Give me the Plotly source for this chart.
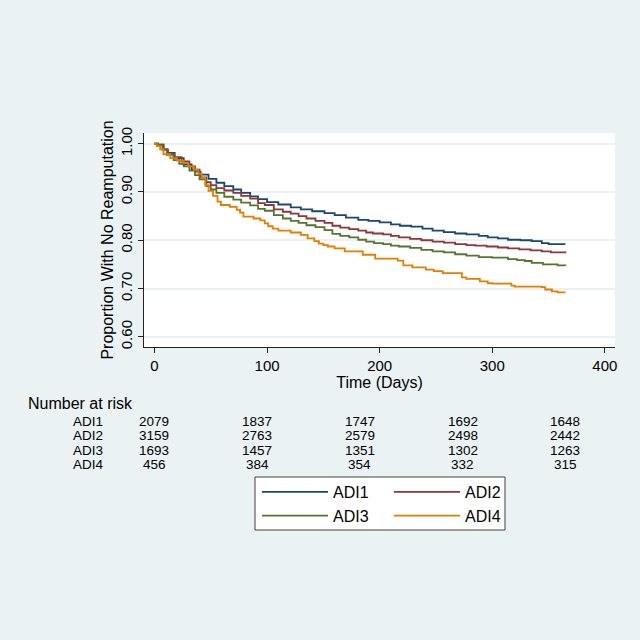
import plotly.graph_objects as go

# ---------------- data ----------------
groups = ["ADI1", "ADI2", "ADI3", "ADI4"]
colors = ["#1a476f", "#90353b", "#55752f", "#e37e00"]

adi1_days = [0, 3, 8, 11, 18, 26, 33, 40, 48, 55, 62, 70, 77, 85, 92, 100, 110, 121, 130, 140,
             151, 160, 170, 181, 190, 200, 210, 218, 228, 238, 247, 257, 267, 277, 288, 296,
             305, 314, 325, 335, 344, 350, 365]
adi1_surv = [1.000, 0.998, 0.988, 0.981, 0.970, 0.957, 0.946, 0.936, 0.927, 0.919, 0.912, 0.905,
             0.898, 0.891, 0.885, 0.879, 0.874, 0.868, 0.864, 0.860, 0.856, 0.852, 0.847, 0.842,
             0.840, 0.837, 0.833, 0.830, 0.828, 0.824, 0.820, 0.817, 0.814, 0.812, 0.809, 0.806,
             0.804, 0.801, 0.800, 0.798, 0.794, 0.792, 0.792]

adi2_days = [0, 3, 8, 12, 17, 24, 31, 36, 41, 46, 50, 55, 62, 70, 77, 85, 92, 98, 106, 114, 121,
             128, 135, 143, 151, 158, 165, 173, 181, 188, 194, 203, 210, 217, 227, 237, 247, 257,
             267, 277, 285, 295, 305, 314, 324, 334, 344, 352, 365]
adi2_surv = [1.000, 0.998, 0.988, 0.980, 0.972, 0.963, 0.953, 0.942, 0.930, 0.920, 0.914, 0.908,
             0.903, 0.898, 0.892, 0.886, 0.877, 0.873, 0.864, 0.859, 0.855, 0.850, 0.845, 0.840,
             0.836, 0.830, 0.826, 0.823, 0.820, 0.816, 0.814, 0.812, 0.809, 0.806, 0.803, 0.800,
             0.797, 0.795, 0.792, 0.790, 0.789, 0.787, 0.785, 0.783, 0.781, 0.779, 0.777, 0.775,
             0.773]

adi3_days = [0, 3, 7, 11, 17, 22, 26, 31, 36, 40, 46, 50, 55, 62, 70, 77, 85, 92, 98, 106, 114,
             121, 128, 135, 143, 151, 158, 165, 173, 181, 188, 195, 203, 210, 217, 227, 237, 247,
             257, 267, 277, 288, 300, 314, 322, 329, 335, 345, 358, 365]
adi3_surv = [1.000, 0.997, 0.987, 0.977, 0.966, 0.958, 0.953, 0.944, 0.935, 0.926, 0.912, 0.905,
             0.898, 0.890, 0.884, 0.878, 0.872, 0.865, 0.861, 0.852, 0.845, 0.840, 0.836, 0.831,
             0.827, 0.821, 0.813, 0.809, 0.806, 0.801, 0.797, 0.794, 0.792, 0.789, 0.787, 0.784,
             0.780, 0.777, 0.775, 0.771, 0.768, 0.765, 0.764, 0.761, 0.759, 0.757, 0.753, 0.750,
             0.748, 0.747]

adi4_days = [0, 2, 5, 8, 14, 20, 26, 30, 35, 39, 42, 45, 48, 52, 56, 59, 67, 73, 76, 79, 88, 94,
             98, 101, 105, 110, 121, 130, 136, 142, 146, 150, 154, 160, 169, 185, 196, 216, 221,
             229, 241, 248, 256, 273, 277, 289, 296, 300, 317, 320, 344, 347, 353, 358, 365]
adi4_surv = [1.000, 0.995, 0.988, 0.978, 0.970, 0.965, 0.960, 0.953, 0.946, 0.938, 0.929, 0.914,
             0.902, 0.892, 0.880, 0.873, 0.869, 0.863, 0.857, 0.849, 0.845, 0.841, 0.835, 0.829,
             0.824, 0.820, 0.816, 0.811, 0.804, 0.798, 0.793, 0.790, 0.787, 0.783, 0.777, 0.770,
             0.762, 0.758, 0.748, 0.744, 0.739, 0.736, 0.732, 0.723, 0.720, 0.715, 0.711, 0.710,
             0.706, 0.704, 0.703, 0.698, 0.694, 0.692, 0.692]

risk_times = [0, 91.25, 182.5, 273.75, 365]
risk_counts = {
    "ADI1": [2079, 1837, 1747, 1692, 1648],
    "ADI2": [3159, 2763, 2579, 2498, 2442],
    "ADI3": [1693, 1457, 1351, 1302, 1263],
    "ADI4": [456, 384, 354, 332, 315],
}

x_ticks = [0, 100, 200, 300, 400]
y_ticks = [0.6, 0.7, 0.8, 0.9, 1.0]

# ---------------- figure ----------------
FONT = "Liberation Sans, Arial, sans-serif"
BG = "#EAF2F3"

series = [(adi1_days, adi1_surv), (adi2_days, adi2_surv), (adi3_days, adi3_surv), (adi4_days, adi4_surv)]
legend_of = ["legend", "legend2", "legend", "legend2"]

fig = go.Figure()
for name, col, (d, s), lg in zip(groups, colors, series, legend_of):
    fig.add_trace(go.Scatter(x=d, y=s, mode="lines", name=name, line_shape="hv",
                             line=dict(color=col, width=1.8), legend=lg))

L, R, T, B = 144, 25, 133, 293
W, H = 640 - L - R, 640 - T - B


def py(pix):
    return (640 - B - pix) / H


def px(pix):
    return (pix - L) / W


# number-at-risk table
fig.add_annotation(text="Number at risk", xref="paper", yref="paper", x=px(26), y=py(403),
                   xanchor="left", yanchor="middle", showarrow=False,
                   font=dict(family=FONT, size=16, color="black"))
row_y = [421, 435.5, 450, 464.5]
for g, yy in zip(groups, row_y):
    fig.add_annotation(text=g, xref="paper", yref="paper", x=px(88), y=py(yy),
                       xanchor="center", yanchor="middle", showarrow=False,
                       font=dict(family=FONT, size=13.5, color="black"))
    for t, n in zip(risk_times, risk_counts[g]):
        fig.add_annotation(text=str(n), xref="x", yref="paper", x=t, y=py(yy),
                           xanchor="center", yanchor="middle", showarrow=False,
                           font=dict(family=FONT, size=13.5, color="black"))

# legend box
fig.add_shape(type="rect", xref="paper", yref="paper", x0=px(255), x1=px(505), y0=py(477), y1=py(530),
              fillcolor="white", line=dict(color="#404040", width=1), layer="below")

legend_common = dict(orientation="v", bgcolor="rgba(0,0,0,0)", borderwidth=0,
                     font=dict(family=FONT, size=16, color="black"), itemwidth=66,
                     yanchor="top", tracegroupgap=0)
fig.update_layout(
    width=640, height=640,
    paper_bgcolor=BG, plot_bgcolor="white",
    margin=dict(l=L, r=R, t=T, b=B),
    font=dict(family=FONT, size=15, color="black"),
    legend=dict(x=px(257), y=py(475), xanchor="left", **legend_common),
    legend2=dict(x=px(389), y=py(475), xanchor="left", **legend_common),
    xaxis=dict(range=[-9.3, 409], tickvals=x_ticks, ticks="outside", ticklen=5, tickwidth=1,
               tickcolor="#222", showline=True, linecolor="#222", linewidth=1, showgrid=False,
               zeroline=False, tickfont=dict(size=15),
               title=dict(text="Time (Days)", font=dict(size=16), standoff=0)),
    yaxis=dict(range=[0.579, 1.022], tickvals=y_ticks, tickformat=".2f", tickangle=-90,
               ticks="outside", ticklen=5, tickwidth=1, tickcolor="#222", showline=True,
               linecolor="#222", linewidth=1, showgrid=True, gridcolor=BG, gridwidth=1.5,
               zeroline=False, tickfont=dict(size=15),
               title=dict(text="Proportion With No Reamputation", font=dict(size=16), standoff=0)),
)

fig.write_html("out.html", config={"displayModeBar": False},
               post_script="document.body.style.margin='0';document.body.style.overflow='hidden';")
